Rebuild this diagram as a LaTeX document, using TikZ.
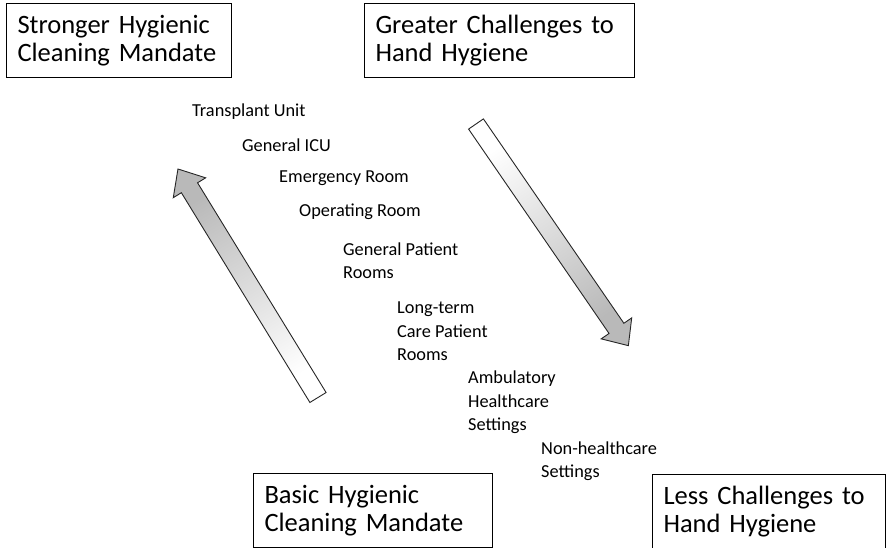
\documentclass[tikz,border=0pt]{standalone}
\usepackage{fontspec}
\setmainfont{Carlito}
\usepackage{tikz}

\begin{document}
\begin{tikzpicture}[x=1pt,y=1pt,
    box/.style={draw, line width=1pt, anchor=north west, align=left,
        inner xsep=11pt, text width=#1, font=\fontsize{26.5}{28}\selectfont,
        minimum height=74pt},
    lab/.style={anchor=base west, align=left, inner sep=0pt,
        font=\fontsize{18.3}{23.5}\selectfont},
    fat/.style={draw=black!85, line width=0.9pt}]
    \useasboundingbox (0,0) rectangle (887,548);
    \node[box=203pt] (strong) at (6,545) {Stronger Hygienic\\Cleaning Mandate};
    \node[box=248pt] (great) at (364,545) {Greater Challenges to\\Hand Hygiene};
    \node[box=217pt] (basic) at (253,75) {Basic Hygienic\\Cleaning Mandate};
    \node[box=211pt] (less) at (652,74) {Less Challenges to\\Hand Hygiene};
    \node[lab] (trans) at (192,431) {Transplant Unit};
    \node[lab] (icu) at (242,396) {General ICU};
    \node[lab] (emer) at (279,365) {Emergency Room};
    \node[lab] (oper) at (299,331) {Operating Room};
    \node[lab] (gen) at (343,269) {General Patient\\Rooms};
    \node[lab] (long) at (397,187) {Long-term\\Care Patient\\Rooms};
    \node[lab] (amb) at (468,117) {Ambulatory\\Healthcare\\Settings};
    \node[lab] (non) at (541,70) {Non-healthcare\\Settings};
    \begin{scope}[shift={(318,150.5)}, rotate=121.5]
        \draw[fat, top color=gray!55, bottom color=white, shading angle=31.5]
            (0,-9.5) -- (246,-9.5) -- (246,-19) -- (268,0) -- (246,19)
            -- (246,9.5) -- (0,9.5) -- cycle;
    \end{scope}
    \begin{scope}[shift={(476,424)}, rotate=-55.5]
        \draw[fat, top color=white, bottom color=gray!55, shading angle=34.5]
            (0,-9) -- (248,-9) -- (248,-18.5) -- (269,0) -- (248,18.5)
            -- (248,9) -- (0,9) -- cycle;
    \end{scope}
\end{tikzpicture}
\end{document}
